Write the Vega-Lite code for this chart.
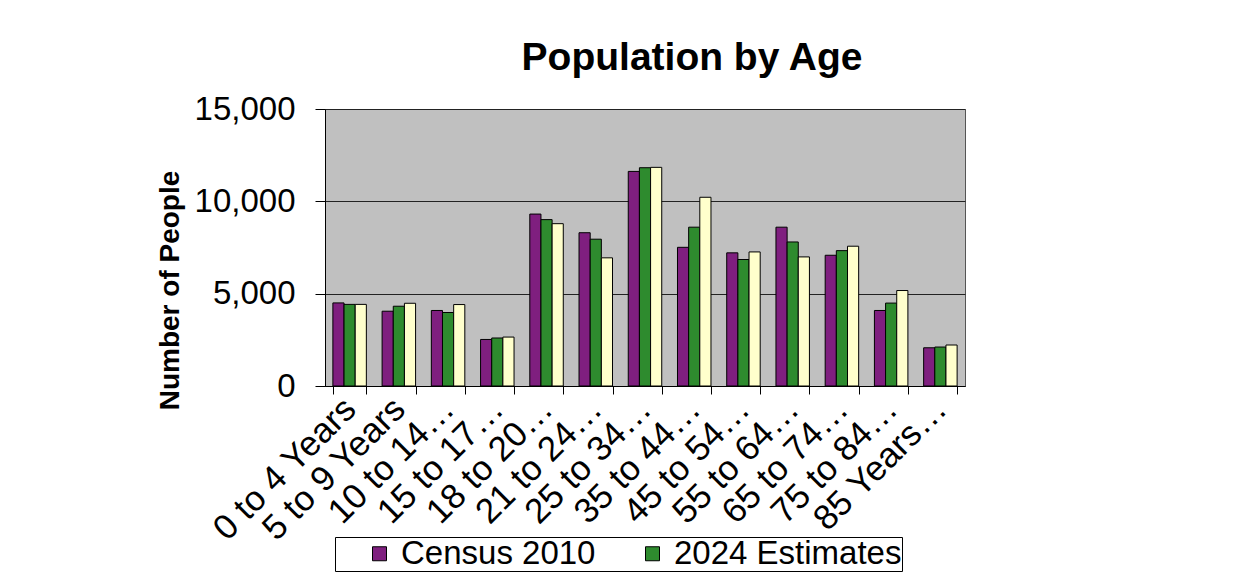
{
  "$schema": "https://vega.github.io/schema/vega-lite/v6.json",
  "width": 640,
  "height": 277,
  "autosize": {"type": "none"},
  "padding": {"left": 325, "top": 109, "right": 292, "bottom": 187},
  "background": "white",
  "config": {
    "font": "Liberation Sans",
    "view": {"fill": "#C0C0C0", "stroke": "#555555", "strokeWidth": 1}
  },
  "title": {
    "text": "Population by Age",
    "fontSize": 39,
    "fontWeight": "bold",
    "font": "Liberation Sans",
    "color": "black",
    "anchor": "middle",
    "dx": 47,
    "offset": 15
  },
  "data": {
    "values": [
      {"age": "0 to 4 Years", "series": "Census 2010", "value": 4500},
      {"age": "0 to 4 Years", "series": "2024 Estimates", "value": 4420},
      {"age": "0 to 4 Years", "series": "2029 Projections", "value": 4420},
      {"age": "5 to 9 Years", "series": "Census 2010", "value": 4050},
      {"age": "5 to 9 Years", "series": "2024 Estimates", "value": 4320},
      {"age": "5 to 9 Years", "series": "2029 Projections", "value": 4480},
      {"age": "10 to 14 Years", "series": "Census 2010", "value": 4090},
      {"age": "10 to 14 Years", "series": "2024 Estimates", "value": 3980},
      {"age": "10 to 14 Years", "series": "2029 Projections", "value": 4410},
      {"age": "15 to 17 Years", "series": "Census 2010", "value": 2520},
      {"age": "15 to 17 Years", "series": "2024 Estimates", "value": 2600},
      {"age": "15 to 17 Years", "series": "2029 Projections", "value": 2650},
      {"age": "18 to 20 Years", "series": "Census 2010", "value": 9310},
      {"age": "18 to 20 Years", "series": "2024 Estimates", "value": 9010},
      {"age": "18 to 20 Years", "series": "2029 Projections", "value": 8790},
      {"age": "21 to 24 Years", "series": "Census 2010", "value": 8300},
      {"age": "21 to 24 Years", "series": "2024 Estimates", "value": 7950},
      {"age": "21 to 24 Years", "series": "2029 Projections", "value": 6940},
      {"age": "25 to 34 Years", "series": "Census 2010", "value": 11620},
      {"age": "25 to 34 Years", "series": "2024 Estimates", "value": 11820},
      {"age": "25 to 34 Years", "series": "2029 Projections", "value": 11840},
      {"age": "35 to 44 Years", "series": "Census 2010", "value": 7510},
      {"age": "35 to 44 Years", "series": "2024 Estimates", "value": 8600},
      {"age": "35 to 44 Years", "series": "2029 Projections", "value": 10220},
      {"age": "45 to 54 Years", "series": "Census 2010", "value": 7210},
      {"age": "45 to 54 Years", "series": "2024 Estimates", "value": 6850},
      {"age": "45 to 54 Years", "series": "2029 Projections", "value": 7260},
      {"age": "55 to 64 Years", "series": "Census 2010", "value": 8600},
      {"age": "55 to 64 Years", "series": "2024 Estimates", "value": 7800},
      {"age": "55 to 64 Years", "series": "2029 Projections", "value": 6990},
      {"age": "65 to 74 Years", "series": "Census 2010", "value": 7080},
      {"age": "65 to 74 Years", "series": "2024 Estimates", "value": 7330},
      {"age": "65 to 74 Years", "series": "2029 Projections", "value": 7570},
      {"age": "75 to 84 Years", "series": "Census 2010", "value": 4090},
      {"age": "75 to 84 Years", "series": "2024 Estimates", "value": 4490},
      {"age": "75 to 84 Years", "series": "2029 Projections", "value": 5170},
      {"age": "85 Years and Over", "series": "Census 2010", "value": 2070},
      {"age": "85 Years and Over", "series": "2024 Estimates", "value": 2110},
      {"age": "85 Years and Over", "series": "2029 Projections", "value": 2220}
    ]
  },
  "mark": {"type": "bar", "stroke": "black", "strokeWidth": 1},
  "encoding": {
    "x": {
      "field": "age",
      "type": "nominal",
      "sort": null,
      "scale": {"paddingInner": 0.32, "paddingOuter": 0.16},
      "axis": {
        "title": null,
        "labelAngle": -45,
        "labelFontSize": 35,
        "labelColor": "black",
        "labelAlign": "right",
        "labelBaseline": "middle",
        "labelPadding": 9,
        "labelLimit": 0,
        "labelExpr": "length(datum.label) > 12 ? slice(datum.label, 0, 8) + '…' : datum.label",
        "tickBand": "extent",
        "tickSize": 8,
        "tickColor": "black",
        "domainColor": "black"
      }
    },
    "xOffset": {
      "field": "series",
      "type": "nominal",
      "scale": {"domain": ["Census 2010", "2024 Estimates", "2029 Projections"]}
    },
    "y": {
      "field": "value",
      "type": "quantitative",
      "scale": {"domain": [0, 15000]},
      "axis": {
        "title": "Number of People",
        "values": [0, 5000, 10000, 15000],
        "format": ",.0f",
        "labelFontSize": 33,
        "labelColor": "black",
        "tickSize": 10,
        "labelPadding": 20,
        "tickColor": "black",
        "domainColor": "black",
        "gridColor": "#222222",
        "gridWidth": 1.2,
        "titleFontSize": 28,
        "titleFontWeight": "bold",
        "titleColor": "black",
        "titleX": -155,
        "titleY": 181,
        "titleBaseline": "middle"
      }
    },
    "color": {
      "field": "series",
      "type": "nominal",
      "scale": {
        "domain": ["Census 2010", "2024 Estimates", "2029 Projections"],
        "range": ["#7F1F7F", "#2E8B2E", "#FFFFCC"]
      },
      "legend": {
        "orient": "none",
        "legendX": 10,
        "legendY": 428,
        "direction": "horizontal",
        "title": "\u00a0",
        "titleOrient": "left",
        "titleFontSize": 30,
        "titlePadding": 28,
        "values": ["Census 2010", "2024 Estimates"],
        "symbolType": "square",
        "symbolSize": 196,
        "symbolStrokeColor": "black",
        "symbolStrokeWidth": 1,
        "labelFontSize": 33,
        "labelLimit": 0,
        "labelColor": "black",
        "labelOffset": 5,
        "strokeColor": "black",
        "fillColor": "white",
        "padding": 0,
        "columnPadding": 40
      }
    }
  }
}
